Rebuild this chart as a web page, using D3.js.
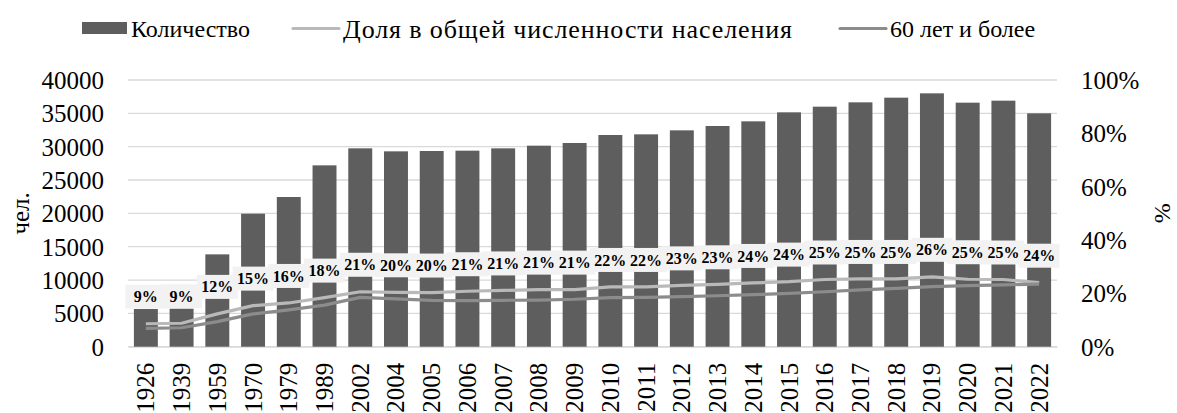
<!DOCTYPE html>
<html>
<head>
<meta charset="utf-8">
<script src="https://cdn.jsdelivr.net/npm/d3@7"></script>
<style>
    html, body { margin: 0; padding: 0; background: #fff; }
</style>
</head>
<body>
<div id="chart"></div>
<script>
/*global d3: false */

//====================================
//data
var years = ['1926', '1939', '1959', '1970', '1979', '1989', '2002', '2004', '2005', '2006',
    '2007', '2008', '2009', '2010', '2011', '2012', '2013', '2014', '2015', '2016',
    '2017', '2018', '2019', '2020', '2021', '2022'];

//Количество, чел.
var counts = [5650, 5700, 13850, 19950, 22450, 27200, 29750, 29300, 29350, 29400,
    29750, 30150, 30550, 31750, 31850, 32450, 33100, 33800, 35150, 36000,
    36650, 37350, 38000, 36600, 36900, 35000];

//Доля в общей численности населения, %
var shareTotal = [8.6, 8.8, 12.3, 15.4, 16.4, 18.4, 20.6, 20.4, 20.3, 20.8,
    21.1, 21.4, 21.4, 22.4, 22.4, 23.0, 23.4, 23.9, 24.4, 25.2,
    25.4, 25.4, 26.2, 25.3, 25.2, 24.0];

//60 лет и более, %
var shareOlder = [6.9, 7.1, 9.4, 12.3, 13.8, 15.6, 18.5, 17.9, 17.4, 17.3,
    17.4, 17.5, 17.8, 18.4, 18.5, 18.75, 19.1, 19.5, 20.0, 20.6,
    21.3, 21.9, 22.5, 22.9, 23.2, 23.5];

var leftTicks = [0, 5000, 10000, 15000, 20000, 25000, 30000, 35000, 40000];
var rightTicks = [0, 20, 40, 60, 80, 100];

(function(){
    "use strict";

    var FONT = 'Liberation Serif';

    var config = {
        width: 1177,
        height: 413,
        margin: {top: 80, right: 120, bottom: 66.3, left: 128},
        barColor: '#5e5e5e',
        totalColor: '#b9b9b9',
        olderColor: '#8c8c8c',
        gridColor: '#d9d9d9',
        labelBg: '#f2f2f2'
    };
    var m = config.margin;
    var innerW = config.width - m.left - m.right;
    var innerH = config.height - m.top - m.bottom;

    var svg = d3.select('#chart').append('svg')
        .attr('width', config.width)
        .attr('height', config.height)
        .style('display', 'block');

    var g = svg.append('g')
        .attr('transform', 'translate(' + m.left + ',' + m.top + ')');

    //scales
    var x = d3.scaleBand().domain(years).range([0, innerW]).paddingInner(0.33).paddingOuter(0.165);
    var cx = function(d){ return x(d) + x.bandwidth() / 2; };
    var yLeft = d3.scaleLinear().domain([0, 40000]).range([innerH, 0]);
    var yRight = d3.scaleLinear().domain([0, 100]).range([innerH, 0]);

    //helper to put the serif font on text
    var serif = function(sel, size){
        sel.style('font-family', FONT).style('font-size', size + 'px').attr('fill', '#000');
    };

    //gridlines
    g.append('g').selectAll('line')
        .data(leftTicks)
        .enter().append('line')
        .attr('x1', 0)
        .attr('x2', innerW)
        .attr('y1', function(d){ return yLeft(d); })
        .attr('y2', function(d){ return yLeft(d); })
        .attr('stroke', config.gridColor)
        .attr('stroke-width', 1.3);

    //left axis
    var leftAxis = g.append('g')
        .attr('transform', 'translate(-24,0)')
        .call(d3.axisLeft(yLeft).tickValues(leftTicks).tickSize(0).tickPadding(0).tickFormat(d3.format('d')));
    leftAxis.select('.domain').remove();
    leftAxis.selectAll('text').call(serif, 25).attr('dy', '0.34em');

    //right axis
    var rightAxis = g.append('g')
        .attr('transform', 'translate(' + (innerW + 24) + ',0)')
        .call(d3.axisRight(yRight).tickValues(rightTicks).tickSize(0).tickPadding(0)
            .tickFormat(function(d){ return d + '%'; }));
    rightAxis.select('.domain').remove();
    rightAxis.selectAll('text').call(serif, 25).attr('dy', '0.34em');

    //bottom axis (rotated years)
    var bottomAxis = g.append('g')
        .attr('transform', 'translate(0,' + innerH + ')')
        .call(d3.axisBottom(x).tickSize(0).tickPadding(0));
    bottomAxis.select('.domain')
        .attr('stroke', config.gridColor)
        .attr('stroke-width', 1.3);
    bottomAxis.selectAll('text')
        .call(serif, 25)
        .attr('text-anchor', 'end')
        .attr('transform', 'translate(0,16) rotate(-90)')
        .attr('x', 0)
        .attr('y', 0)
        .attr('dy', '0.34em');

    //axis titles
    svg.append('text')
        .attr('transform', 'translate(20,' + (m.top + innerH / 2) + ') rotate(-90)')
        .attr('text-anchor', 'middle')
        .attr('dy', '0.34em')
        .call(serif, 25)
        .text('чел.');
    svg.append('text')
        .attr('transform', 'translate(1162,' + (m.top + innerH / 2) + ') rotate(-90)')
        .attr('text-anchor', 'middle')
        .attr('dy', '0.34em')
        .call(serif, 24)
        .text('%');

    //bars
    g.append('g').selectAll('rect')
        .data(years)
        .enter().append('rect')
        .attr('x', function(d){ return x(d); })
        .attr('width', x.bandwidth())
        .attr('y', function(d, i){ return yLeft(counts[i]); })
        .attr('height', function(d, i){ return innerH - yLeft(counts[i]); })
        .attr('fill', config.barColor);

    //lines
    var drawLine = function(values, color){
        var line = d3.line()
            .x(function(d){ return cx(d); })
            .y(function(d, i){ return yRight(values[i]); });
        g.append('path')
            .datum(years)
            .attr('d', line)
            .attr('fill', 'none')
            .attr('stroke', color)
            .attr('stroke-width', 3.2)
            .attr('stroke-linejoin', 'round');
    };
    drawLine(shareTotal, config.totalColor);
    drawLine(shareOlder, config.olderColor);

    //data labels: each box covers the right part of the previous one
    var pct = d3.format('.0%');
    var labelW = 41;
    var labelH = 24;
    var labels = g.append('g');
    years.forEach(function(d, i){
        var lx = cx(d);
        var ly = yRight(shareTotal[i]) - 27;
        var lab = labels.append('g');
        lab.append('rect')
            .attr('x', lx - labelW / 2)
            .attr('y', ly - labelH / 2)
            .attr('width', labelW)
            .attr('height', labelH)
            .attr('fill', config.labelBg);
        lab.append('text')
            .attr('x', lx)
            .attr('y', ly)
            .attr('dy', '0.35em')
            .attr('text-anchor', 'middle')
            .call(serif, 16)
            .style('font-weight', 'bold')
            .text(pct(shareTotal[i] / 100));
    });

    //legend
    var legend = svg.append('g');
    legend.append('rect')
        .attr('x', 82).attr('y', 22).attr('width', 45).attr('height', 12)
        .attr('fill', config.barColor);
    legend.append('text').attr('x', 131).attr('y', 29).attr('dy', '0.35em')
        .call(serif, 24).text('Количество');

    legend.append('line')
        .attr('x1', 293).attr('x2', 339).attr('y1', 28.5).attr('y2', 28.5)
        .attr('stroke', config.totalColor).attr('stroke-width', 3.2).attr('stroke-linecap', 'round');
    legend.append('text').attr('x', 343).attr('y', 29).attr('dy', '0.35em')
        .call(serif, 26)
        .attr('textLength', 449)
        .attr('lengthAdjust', 'spacing')
        .text('Доля в общей численности населения');

    legend.append('line')
        .attr('x1', 840).attr('x2', 886).attr('y1', 28.5).attr('y2', 28.5)
        .attr('stroke', config.olderColor).attr('stroke-width', 3.2).attr('stroke-linecap', 'round');
    legend.append('text').attr('x', 890).attr('y', 29).attr('dy', '0.35em')
        .call(serif, 24).text('60 лет и более');
})();
</script>
</body>
</html>
